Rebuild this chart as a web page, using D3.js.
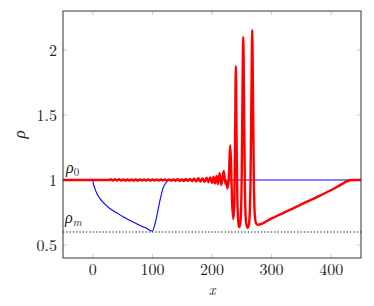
<!DOCTYPE html>
<html>
<head>
<meta charset="utf-8">
<script src="https://cdn.jsdelivr.net/npm/d3@7"></script>
<style>
  body { margin: 0; background: #fff; }
  text { font-family: "Latin Modern Roman", "Liberation Serif", "DejaVu Serif", serif; fill: #222; }
</style>
</head>
<body>
<div class="chart"></div>
<script>
const xTicks = [0, 100, 200, 300, 400];
const yTicks = [0.5, 1, 1.5, 2];
const rhoM = 0.6;
const rho0 = 1;

// blue: initial profile
const blueCurve = [
  [-50, 1], [0, 1], [1, 0.97], [3.4, 0.936], [7, 0.895], [11.7, 0.859], [19, 0.82],
  [28.5, 0.781], [40, 0.748], [50.8, 0.717], [65, 0.683], [78.7, 0.652], [90, 0.628],
  [99.9, 0.607], [103, 0.64], [106.6, 0.704], [112.2, 0.832], [117.8, 0.936],
  [122, 0.975], [127, 0.997], [132, 1], [450, 1]
];

// red: evolved profile
const redCurve = [
  [-50, 1], [28, 1],
  [30, 1.006], [33.5, 0.995], [37, 1.006], [40.5, 0.995], [44, 1.006], [47.5, 0.995],
  [51, 1.005], [54.5, 0.995], [58, 1.005], [61.5, 0.995], [65, 1.005], [68.5, 0.995],
  [72, 1.005], [75.5, 0.995], [79, 1.005], [82.5, 0.996], [86, 1.004], [89.5, 0.996],
  [93, 1.004], [96.5, 0.996], [100, 1.004], [103.5, 0.996], [107, 1.004], [110.5, 0.996],
  [114, 1.004], [117.5, 0.996], [121, 1.004], [124.5, 0.996], [128, 1.004], [131.5, 0.995],
  [135, 1.005], [138.5, 0.994], [142, 1.007], [145.5, 0.993], [149, 1.005], [152.5, 0.992],
  [156, 1.008], [159.5, 0.993], [163, 1.009], [166.5, 0.991], [170, 1.01], [173.5, 0.989],
  [177, 1.013], [180.5, 0.988], [184, 1.011], [187.5, 0.986], [191, 1.017], [194, 0.983],
  [197, 1.02], [200, 0.979], [202.5, 1.024], [205, 0.973], [207.5, 1.031], [210, 0.968],
  [212.7, 1.052], [215.5, 0.962], [219.8, 1.07], [222.5, 0.97], [224, 0.99], [225.8, 0.935],
  [228, 1.0], [229.5, 1.18], [230.6, 1.265], [231.8, 1.15], [233.5, 0.85], [235.8, 0.70],
  [237.5, 0.82], [238.8, 1.35], [240, 1.876], [241.2, 1.35], [242.6, 0.85], [244.5, 0.66],
  [246, 0.639], [247.8, 0.68], [249.8, 1.0], [251.2, 1.7], [252.4, 2.1], [253.6, 1.7],
  [255, 1.0], [257, 0.68], [259.5, 0.632], [262, 0.66], [264.5, 0.95], [266.3, 1.7],
  [267.5, 2.154], [268.7, 1.7], [270.2, 1.0], [272, 0.72], [274.5, 0.662], [277, 0.656],
  [300, 0.705], [327, 0.762], [350, 0.813], [383, 0.884], [405, 0.935], [418, 0.968],
  [425, 0.987], [432, 0.998], [440, 1], [450, 1]
];

const W = 374, H = 306;
const margin = {top: 11, right: 13, bottom: 48, left: 63};
const w = W - margin.left - margin.right;
const h = H - margin.top - margin.bottom;

const svg = d3.select('.chart')
  .append('svg')
    .attr('width', W)
    .attr('height', H);

const g = svg.append('g')
  .attr('transform', `translate(${margin.left},${margin.top})`);

const x = d3.scaleLinear().domain([-50, 450]).range([0, w]);
const y = d3.scaleLinear().domain([0.4, 2.3]).range([h, 0]);

g.append('clipPath').attr('id', 'clip')
  .append('rect').attr('width', w).attr('height', h);

// inward ticks on all four sides
const tickLen = 4;
const tickColor = '#c8c8c8';
g.selectAll('.xt').data(xTicks).enter().append('g')
  .each(function(d){
    const s = d3.select(this);
    s.append('line').attr('x1', x(d)).attr('x2', x(d)).attr('y1', h).attr('y2', h - tickLen)
      .attr('stroke', tickColor);
    s.append('line').attr('x1', x(d)).attr('x2', x(d)).attr('y1', 0).attr('y2', tickLen)
      .attr('stroke', tickColor);
  });
g.selectAll('.yt').data(yTicks).enter().append('g')
  .each(function(d){
    const s = d3.select(this);
    s.append('line').attr('x1', 0).attr('x2', tickLen).attr('y1', y(d)).attr('y2', y(d))
      .attr('stroke', tickColor);
    s.append('line').attr('x1', w).attr('x2', w - tickLen).attr('y1', y(d)).attr('y2', y(d))
      .attr('stroke', tickColor);
  });

// tick labels
g.selectAll('.xl').data(xTicks).enter().append('text')
  .attr('x', d => x(d)).attr('y', h + 17)
  .attr('text-anchor', 'middle').attr('font-size', 16)
  .text(d => d);
g.selectAll('.yl').data(yTicks).enter().append('text')
  .attr('x', -6).attr('y', d => y(d) + 5.5)
  .attr('text-anchor', 'end').attr('font-size', 16)
  .text(d => d);

const plot = g.append('g').attr('clip-path', 'url(#clip)');

// rho_m dotted line
plot.append('line')
  .attr('x1', 0).attr('x2', w)
  .attr('y1', y(rhoM)).attr('y2', y(rhoM))
  .attr('stroke', '#000').attr('stroke-width', 1.2)
  .attr('stroke-dasharray', '1.2,2.1');

const line = d3.line()
  .x(d => x(d[0]))
  .y(d => y(d[1]))
  .curve(d3.curveMonotoneX);

plot.append('path').datum(blueCurve)
  .attr('d', line)
  .attr('fill', 'none').attr('stroke', '#0000ff').attr('stroke-width', 1.1);

plot.append('path').datum(redCurve)
  .attr('d', line)
  .attr('fill', 'none').attr('stroke', '#ff0000').attr('stroke-width', 2.4)
  .attr('stroke-linejoin', 'round');

// frame
g.append('rect').attr('width', w).attr('height', h)
  .attr('fill', 'none').attr('stroke', '#333').attr('stroke-width', 1);

// curve labels
const l0 = g.append('text').attr('x', 3).attr('y', y(rho0) - 7)
  .attr('font-size', 16).attr('font-style', 'italic');
l0.append('tspan').text('ρ');
l0.append('tspan').attr('font-size', 11).attr('font-style', 'normal').attr('dy', 3).text('0');

const lm = g.append('text').attr('x', 2).attr('y', y(rhoM) - 9)
  .attr('font-size', 16).attr('font-style', 'italic');
lm.append('tspan').text('ρ');
lm.append('tspan').attr('font-size', 11).attr('dy', 3).text('m');

// axis labels
g.append('text')
  .attr('x', w / 2).attr('y', h + 37)
  .attr('text-anchor', 'middle').attr('font-size', 14.5).attr('font-style', 'italic')
  .text('x');
g.append('text')
  .attr('transform', `translate(${-38},${h / 2}) rotate(-90)`)
  .attr('text-anchor', 'middle').attr('font-size', 17).attr('font-style', 'italic')
  .text('ρ');
</script>
</body>
</html>
